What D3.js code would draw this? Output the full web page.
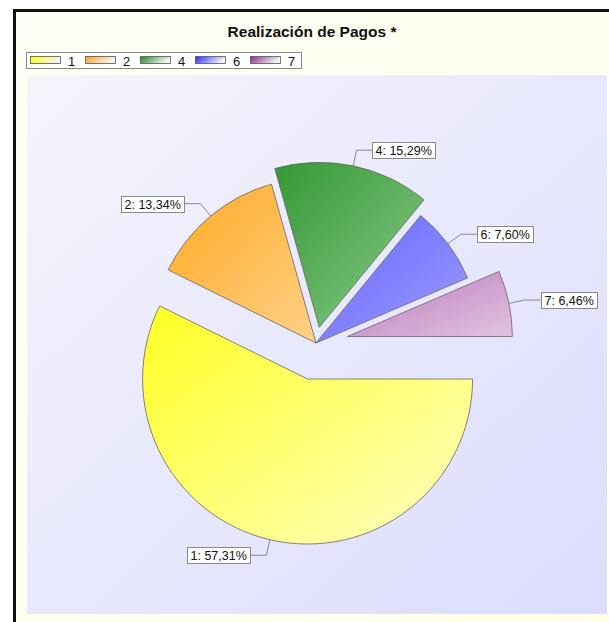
<!DOCTYPE html>
<html>
<head>
<meta charset="utf-8">
<script src="https://cdn.jsdelivr.net/npm/d3@7"></script>
<style>
  html, body { margin: 0; padding: 0; background: #ffffff; }
  svg { display: block; font-family: "Liberation Sans", Arial, sans-serif; }
</style>
</head>
<body>
<svg id="chart" width="609" height="622"></svg>
<script>
// ---- data ----
const categories = ["1", "2", "4", "6", "7"];
const values = [57.31, 13.34, 15.29, 7.60, 6.46];
const labels = ["1: 57,31%", "2: 13,34%", "4: 15,29%", "6: 7,60%", "7: 6,46%"];
const title = "Realización de Pagos *";

// ---- styles ----
const colorsDark  = ["#ffff22", "#ffaa22", "#339933", "#6666ff", "#bb77bb"];
const colorsLight = ["#ffffc4", "#ffd088", "#8cc98c", "#9c9cff", "#e0c4e0"];
const legendDark  = ["#ffff00", "#ffa020", "#1f8a1f", "#2a2aff", "#8a2a8a"];
const explode = [37, 0, 16, 0, 32];

const svg = d3.select("#chart");
const defs = svg.append("defs");

// backgrounds
const bgG = defs.append("linearGradient").attr("id", "bgG")
  .attr("x1", 0).attr("y1", 0).attr("x2", 1).attr("y2", 1);
bgG.append("stop").attr("offset", "0%").attr("stop-color", "#fffff6");
bgG.append("stop").attr("offset", "100%").attr("stop-color", "#ffffe8");

const plotG = defs.append("linearGradient").attr("id", "plotG")
  .attr("x1", 0).attr("y1", 0).attr("x2", 1).attr("y2", 1);
plotG.append("stop").attr("offset", "0%").attr("stop-color", "#f5f5fc");
plotG.append("stop").attr("offset", "100%").attr("stop-color", "#dcdcff");

colorsDark.forEach((c, i) => {
  const g = defs.append("linearGradient").attr("id", "sg" + i)
    .attr("x1", 0).attr("y1", 0).attr("x2", 1).attr("y2", 1);
  g.append("stop").attr("offset", "0%").attr("stop-color", c);
  g.append("stop").attr("offset", "100%").attr("stop-color", colorsLight[i]);
  const l = defs.append("linearGradient").attr("id", "lg" + i)
    .attr("x1", 0).attr("y1", 0).attr("x2", 1).attr("y2", 0.3);
  l.append("stop").attr("offset", "0%").attr("stop-color", legendDark[i]);
  l.append("stop").attr("offset", "100%").attr("stop-color", "#f4f4f4");
});

// outer frame
svg.append("rect").attr("x", 14.5).attr("y", 10.5).attr("width", 640).attr("height", 640)
  .attr("fill", "url(#bgG)").attr("stroke", "#111").attr("stroke-width", 3);

// plot area
svg.append("rect").attr("x", 27).attr("y", 75).attr("width", 580).attr("height", 539)
  .attr("fill", "url(#plotG)");

// title
svg.append("text").attr("x", 312).attr("y", 37).attr("text-anchor", "middle")
  .attr("font-size", "15.5px").attr("font-weight", "bold").attr("fill", "#111")
  .text(title);

// legend
const legend = svg.append("g");
legend.append("rect").attr("x", 26.5).attr("y", 52.5).attr("width", 275).attr("height", 16)
  .attr("fill", "#ffffff").attr("stroke", "#888");
const legendStep = 55;
categories.forEach((c, i) => {
  const x0 = 30 + i * legendStep;
  legend.append("rect").attr("x", x0 + 0.5).attr("y", 56.5).attr("width", 30).attr("height", 7)
    .attr("fill", "url(#lg" + i + ")").attr("stroke", "#555").attr("stroke-width", 0.8);
  legend.append("text").attr("x", x0 + 38).attr("y", 65.5).attr("font-size", "13px")
    .attr("fill", "#111").text(c);
});

// pie
const cx = 316, cy = 343, R = 165;
const pie = d3.pie().sort(null).value(d => d)
  .startAngle(Math.PI / 2).endAngle(Math.PI / 2 + 2 * Math.PI);
const arcs = pie(values);
const arc = d3.arc().innerRadius(0).outerRadius(R);

const g = svg.append("g").attr("transform", `translate(${cx},${cy})`);

arcs.forEach((a, i) => {
  const mid = (a.startAngle + a.endAngle) / 2;
  const ux = Math.sin(mid), uy = -Math.cos(mid);
  const ox = ux * explode[i], oy = uy * explode[i];
  g.append("path").attr("d", arc(a))
    .attr("transform", `translate(${ox},${oy})`)
    .attr("fill", "url(#sg" + i + ")")
    .attr("stroke", "#666").attr("stroke-width", 0.8);
});

// labels
arcs.forEach((a, i) => {
  const mid = (a.startAngle + a.endAngle) / 2;
  const ux = Math.sin(mid), uy = -Math.cos(mid);
  const ox = ux * explode[i], oy = uy * explode[i];
  const p0 = [ox + ux * R, oy + uy * R];
  const p1 = [ox + ux * (R + 16), oy + uy * (R + 16)];
  const right = ux >= 0;
  const p2 = [p1[0] + (right ? 16 : -16), p1[1]];
  g.append("polyline")
    .attr("points", [p0, p1, p2].map(p => p.join(",")).join(" "))
    .attr("fill", "none").attr("stroke", "#888").attr("stroke-width", 1);
  const t = g.append("text").attr("font-size", "12.5px").attr("fill", "#111").text(labels[i]);
  const w = t.node().getComputedTextLength();
  const bw = w + 7, bh = 16;
  const bx = right ? p2[0] : p2[0] - bw;
  const by = p2[1] - bh / 2;
  g.insert("rect", "text:last-of-type")
    .attr("x", Math.round(bx) + 0.5).attr("y", Math.round(by) + 0.5)
    .attr("width", Math.round(bw)).attr("height", bh)
    .attr("fill", "#ffffff").attr("stroke", "#888");
  t.attr("x", Math.round(bx) + 3.5).attr("y", Math.round(by) + 13);
});
</script>
</body>
</html>
